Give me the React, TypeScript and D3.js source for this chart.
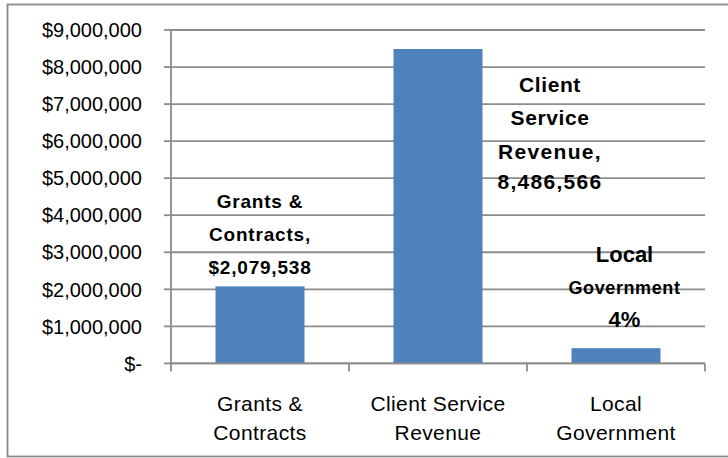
import React from "react";
import * as d3 from "d3";

const categories = ["Grants & Contracts", "Client Service Revenue", "Local Government"];
const categoryLines = [["Grants &", "Contracts"], ["Client Service", "Revenue"], ["Local", "Government"]];
const values = [2079538, 8486566, 410000];
const yTicks = [0, 1000000, 2000000, 3000000, 4000000, 5000000, 6000000, 7000000, 8000000, 9000000];
const dataLabelLines = [
  ["Grants &", "Contracts,", "$2,079,538"],
  ["Client", "Service", "Revenue,", "8,486,566"],
  ["Local", "Government", "4%"],
];

const W = 728;
const H = 458;
const FONT = "'Liberation Sans', Arial, sans-serif";
const GRID = "#8c8c8c";
const BAR = "#4f81bd";

// label layout (style only): x offset from bar centre, baselines, sizes
const labelLayout = [
  { dx: 0, baselines: [208, 241, 274], sizes: [19, 19, 19], ls: [0.8, 0.8, 0.8] },
  { dx: 112, baselines: [92, 125, 159, 189], sizes: [21, 21, 21, 21], ls: [0.6, 0.6, 1.3, 1.3] },
  { dx: 8.5, baselines: [262, 294, 327], sizes: [22, 18, 22], ls: [0, 0.6, 0] },
];

export default function App() {
  const left = 171;
  const right = 705;
  const top = 30;
  const bottom = 363.4;

  const x = d3.scaleBand<string>().domain(categories).range([left, right]).paddingInner(0.5).paddingOuter(0.25);
  const y = d3.scaleLinear().domain([0, 9000000]).range([bottom, top]);
  const step = x.step();
  const fmt = d3.format(",");
  const tickLabel = (v: number) => (v === 0 ? "$-" : "$" + fmt(v));
  const catTicks = d3.range(categories.length + 1).map((i) => left + i * step);

  return (
    <div style={{ position: "fixed", left: 0, top: 0, width: W, height: H, background: "#fff" }}>
      <svg width={W} height={H} style={{ display: "block" }} fontFamily={FONT}>
        <rect x={0} y={0} width={W} height={H} fill="#fff" />
        <rect x={7.5} y={4.5} width={W + 10} height={452} fill="none" stroke="#8a8a8a" strokeWidth={1.8} />

        {/* gridlines */}
        {yTicks.map((t) => (
          <line key={"g" + t} x1={left} x2={right} y1={y(t)} y2={y(t)} stroke={GRID} strokeWidth={1.8} />
        ))}

        {/* bars */}
        {categories.map((c, i) => (
          <rect key={c} x={x(c)} y={y(values[i])} width={x.bandwidth()} height={bottom - y(values[i])} fill={BAR} />
        ))}

        {/* y axis */}
        <line x1={left} x2={left} y1={top} y2={bottom} stroke={GRID} strokeWidth={1.8} />
        {yTicks.map((t) => (
          <g key={"yt" + t}>
            <line x1={164} x2={left} y1={y(t)} y2={y(t)} stroke={GRID} strokeWidth={1.8} />
            <text x={142} y={y(t) + 7.2} textAnchor="end" fontSize={20} fill="#000">
              {tickLabel(t)}
            </text>
          </g>
        ))}

        {/* x axis */}
        <line x1={left} x2={right} y1={bottom} y2={bottom} stroke={GRID} strokeWidth={1.8} />
        {catTicks.map((cx, i) => (
          <line key={"xt" + i} x1={cx} x2={cx} y1={bottom} y2={bottom + 8} stroke={GRID} strokeWidth={1.8} />
        ))}
        {categories.map((c, i) => (
          <text key={"xl" + c} textAnchor="middle" fontSize={21} fill="#000">
            {categoryLines[i].map((ln, j) => (
              <tspan key={j} x={(x(c) as number) + x.bandwidth() / 2} y={410.5 + j * 29} letterSpacing={0.4}>
                {ln}
              </tspan>
            ))}
          </text>
        ))}

        {/* data labels */}
        {categories.map((c, i) => {
          const L = labelLayout[i];
          const cx = (x(c) as number) + x.bandwidth() / 2 + L.dx;
          return (
            <text key={"dl" + c} textAnchor="middle" fontWeight="bold" fill="#000">
              {dataLabelLines[i].map((ln, j) => (
                <tspan key={j} x={cx} y={L.baselines[j]} fontSize={L.sizes[j]} letterSpacing={L.ls[j]}>
                  {ln}
                </tspan>
              ))}
            </text>
          );
        })}
      </svg>
    </div>
  );
}
